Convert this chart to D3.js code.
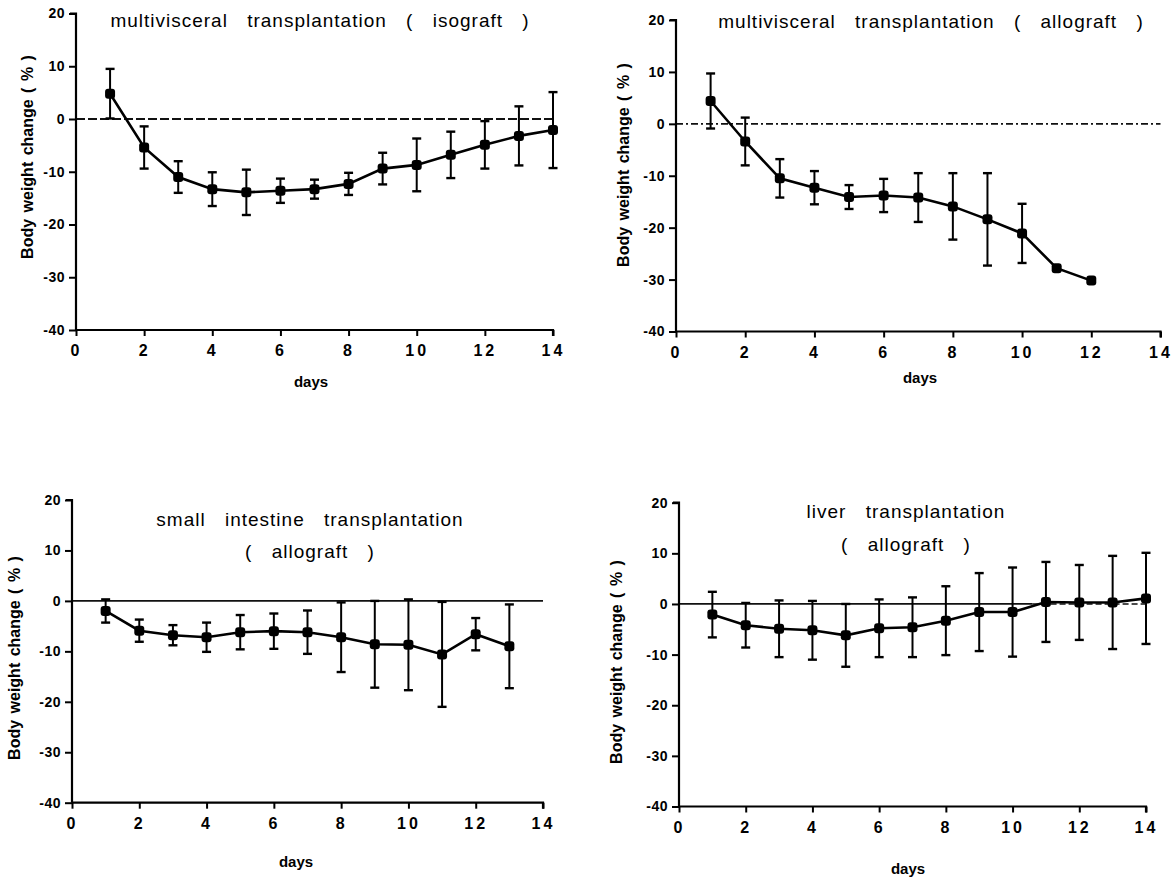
<!DOCTYPE html>
<html><head><meta charset="utf-8">
<script src="https://cdn.jsdelivr.net/npm/d3@7/dist/d3.min.js"></script>
<style>body{margin:0;background:#fff}svg{display:block}</style>
</head><body><svg id="c" width="1174" height="881"></svg>
<script>
// ---------- data ----------
const xTickValues = [0, 2, 4, 6, 8, 10, 12, 14];
const yTickValues = [20, 10, 0, -10, -20, -30, -40];

const isoDays = [1,2,3,4,5,6,7,8,9,10,11,12,13,14];
const isoMean = [4.8, -5.4, -11.0, -13.3, -13.9, -13.6, -13.3, -12.3, -9.4, -8.7, -6.8, -4.9, -3.2, -2.1];
const isoErr  = [4.7, 4.0, 3.0, 3.2, 4.3, 2.3, 1.8, 2.1, 3.0, 5.0, 4.4, 4.5, 5.6, 7.2];

const alloDays = [1,2,3,4,5,6,7,8,9,10,11,12];
const alloMean = [4.4, -3.4, -10.5, -12.3, -14.1, -13.8, -14.2, -15.9, -18.4, -21.1, -27.8, -30.2];
const alloErr  = [5.3, 4.6, 3.7, 3.2, 2.3, 3.2, 4.7, 6.4, 8.9, 5.7, 0, 0];

const siDays = [1,2,3,4,5,6,7,8,9,10,11,12,13];
const siMean = [-2.0, -5.9, -6.8, -7.2, -6.2, -6.0, -6.2, -7.2, -8.6, -8.7, -10.6, -6.6, -9.0];
const siErr  = [2.3, 2.2, 2.0, 2.9, 3.4, 3.5, 4.3, 6.9, 8.6, 9.0, 10.4, 3.2, 8.3];

const liverDays = [1,2,3,4,5,6,7,8,9,10,11,12,13,14];
const liverMean = [-2.1, -4.2, -4.9, -5.2, -6.2, -4.8, -4.6, -3.3, -1.6, -1.6, 0.4, 0.3, 0.3, 1.1];
const liverErr  = [4.5, 4.4, 5.6, 5.8, 6.2, 5.7, 5.9, 6.8, 7.7, 8.8, 7.9, 7.4, 9.2, 9.0];

const titles = [
  ["multivisceral transplantation ( isograft )"],
  ["multivisceral transplantation ( allograft )"],
  ["small intestine transplantation", "( allograft )"],
  ["liver transplantation", "( allograft )"]
];
const yLabel = "Body weight change ( % )";
const xLabel = "days";

// ---------- layout (positions only) ----------
const panels = [
  {days: isoDays, mean: isoMean, err: isoErr, title: titles[0],
   x0: 76, x1: 553, yt: 13.5, yb: 330, tx: 320, ty: [27], lx: 27, ly: 157, dx: 311, dy: 387, zero: "9,3", zeroEnd: 14},
  {days: alloDays, mean: alloMean, err: alloErr, title: titles[1],
   x0: 676, x1: 1160.5, yt: 20, yb: 331.5, tx: 931, ty: [28], lx: 623, ly: 165, dx: 920, dy: 383, zero: "7,3,2,3", zeroEnd: 14},
  {days: siDays, mean: siMean, err: siErr, title: titles[2],
   x0: 72, x1: 543, yt: 500, yb: 802.7, tx: 310, ty: [526, 558], lx: 14, ly: 658, dx: 296, dy: 867, zero: null, zeroEnd: 14},
  {days: liverDays, mean: liverMean, err: liverErr, title: titles[3],
   x0: 679, x1: 1146, yt: 502.7, yb: 806.5, tx: 906, ty: [518, 551], lx: 616, ly: 662, dx: 908, dy: 874, zero: null, zeroEnd: 10.6}
];

const FONT = "'Liberation Sans', Arial, Helvetica, sans-serif";
const svg = d3.select("#c");
svg.append("rect").attr("width", 1174).attr("height", 881).attr("fill", "#fff");

panels.forEach(p => {
  const x = d3.scaleLinear().domain([0, 14]).range([p.x0, p.x1]);
  const y = d3.scaleLinear().domain([-40, 20]).range([p.yb, p.yt]);
  const g = svg.append("g");

  // zero reference line
  g.append("line")
    .attr("x1", x(0)).attr("x2", x(p.zeroEnd))
    .attr("y1", y(0)).attr("y2", y(0))
    .attr("stroke", "#111").attr("stroke-width", 1.8)
    .attr("stroke-dasharray", p.zero);
  if (p.zeroEnd < 14) {
    g.append("line")
      .attr("x1", x(p.zeroEnd)).attr("x2", x(14))
      .attr("y1", y(0)).attr("y2", y(0))
      .attr("stroke", "#111").attr("stroke-width", 1.4)
      .attr("stroke-dasharray", "6,3");
  }

  // axes
  const ya = g.append("g").attr("transform", `translate(${x(0)},0)`)
    .call(d3.axisLeft(y).tickValues(yTickValues).tickSize(7).tickPadding(4)
      .tickFormat(d => String(d)));
  const xa = g.append("g").attr("transform", `translate(0,${y(-40)})`)
    .call(d3.axisBottom(x).tickValues(xTickValues).tickSize(6).tickPadding(9)
      .tickFormat(d => String(d)));
  [ya, xa].forEach(a => {
    a.select(".domain").attr("stroke", "#000").attr("stroke-width", 2.2);
    a.selectAll(".tick line").attr("stroke", "#000").attr("stroke-width", 2);
  });
  ya.select(".domain").attr("d", `M-6,${y(20)}H0V${y(-40)}`);
  xa.select(".domain").attr("d", `M${x(0)},0H${x(14)}V6`);
  ya.selectAll(".tick text").attr("font-family", FONT).attr("font-size", 14)
    .attr("font-weight", "bold").attr("fill", "#000").attr("letter-spacing", "0.5px");
  xa.selectAll(".tick text").attr("font-family", FONT).attr("font-size", 16)
    .attr("font-weight", "bold").attr("fill", "#000").attr("letter-spacing", "3px");

  // error bars
  const eb = g.append("g").attr("stroke", "#000").attr("stroke-width", 2);
  p.days.forEach((d, i) => {
    const e = p.err[i];
    if (!e) return;
    const m = p.mean[i];
    eb.append("line").attr("x1", x(d)).attr("x2", x(d)).attr("y1", y(m + e)).attr("y2", y(m - e));
    [m + e, m - e].forEach(v => eb.append("line")
      .attr("x1", x(d) - 4.5).attr("x2", x(d) + 4.5).attr("y1", y(v)).attr("y2", y(v))
      .attr("stroke-width", 2.4));
  });

  // mean line
  const pts = p.days.map((d, i) => [d, p.mean[i]]);
  g.append("path").datum(pts)
    .attr("d", d3.line().x(d => x(d[0])).y(d => y(d[1])))
    .attr("fill", "none").attr("stroke", "#000").attr("stroke-width", 2.6);

  // markers
  g.selectAll("rect.mk").data(pts).join("rect").attr("class", "mk")
    .attr("x", d => x(d[0]) - 5).attr("y", d => y(d[1]) - 5)
    .attr("width", 10).attr("height", 10).attr("rx", 3).attr("fill", "#000");

  // title
  p.title.forEach((t, k) => {
    g.append("text").attr("x", p.tx).attr("y", p.ty[k])
      .attr("text-anchor", "middle").attr("font-family", FONT).attr("font-size", 19)
      .attr("letter-spacing", "1px").attr("word-spacing", "13px").attr("fill", "#000")
      .text(t);
  });

  // y label
  g.append("text").attr("transform", `translate(${p.lx},${p.ly}) rotate(-90)`)
    .attr("text-anchor", "middle").attr("dy", "0.35em")
    .attr("font-family", FONT).attr("font-size", 16).attr("font-weight", "bold")
    .attr("word-spacing", "2px").attr("fill", "#000").text(yLabel);

  // x label
  g.append("text").attr("x", p.dx).attr("y", p.dy).attr("text-anchor", "middle")
    .attr("font-family", FONT).attr("font-size", 15).attr("font-weight", "bold")
    .attr("fill", "#000").text(xLabel);
});
</script></body></html>
